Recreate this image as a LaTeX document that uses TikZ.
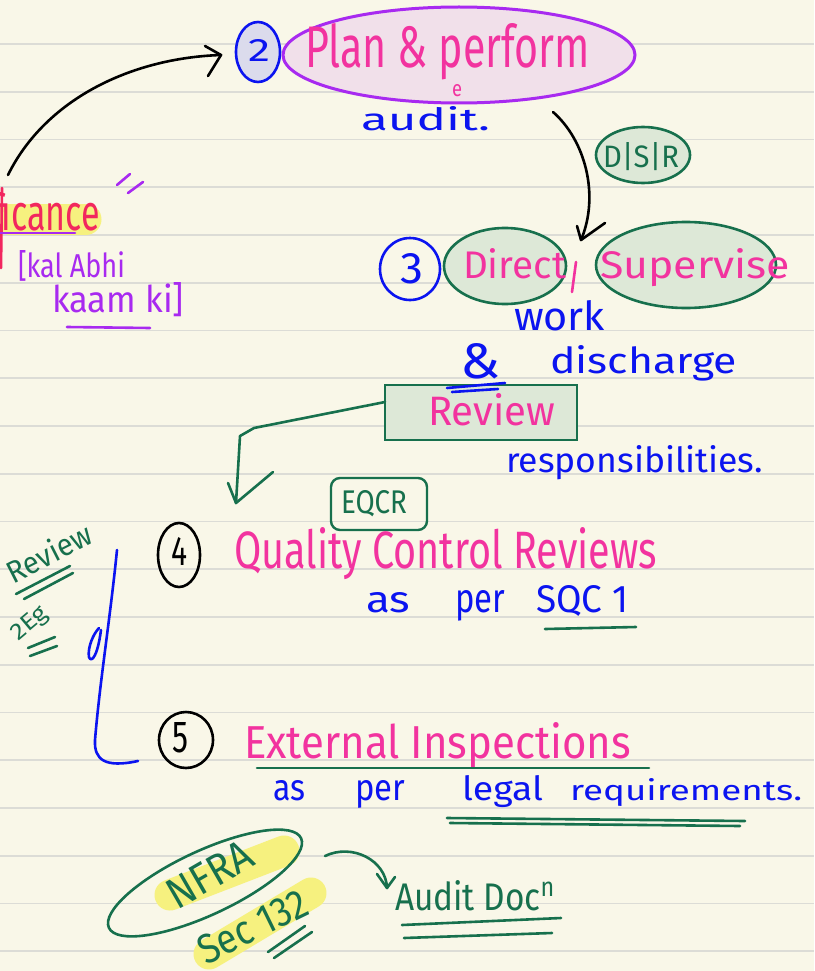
\documentclass[tikz,border=0pt]{standalone}
\usepackage{fontspec}
\usepackage{graphicx}
\setmainfont{Fira Sans}
\usetikzlibrary{shapes.geometric}

\definecolor{paper}{HTML}{F9F7E8}
\definecolor{ruling}{HTML}{DCDCD6}
\definecolor{inkblue}{HTML}{0B14F0}
\definecolor{inkpink}{HTML}{F2339F}
\definecolor{inkred}{HTML}{F2275E}
\definecolor{inkpurple}{HTML}{A82AF0}
\definecolor{inkgreen}{HTML}{17704D}
\definecolor{greenfill}{HTML}{DDE8D7}
\definecolor{pinkfill}{HTML}{F1E0EA}
\definecolor{bluefill}{HTML}{DBDBEC}
\definecolor{hilite}{HTML}{F6F17F}

% text squeezed to a given width and height (in pt)
\newcommand\hw[3]{\resizebox{#1pt}{#2pt}{#3}}

\begin{document}
\begin{tikzpicture}[x=1pt,y=-1pt,
  pen/.style={line width=2.6pt, line cap=round, line join=round},
  txt/.style={inner sep=0pt, outer sep=0pt, anchor=base west},
  oval/.style={ellipse, inner sep=0pt, line width=2.6pt},
  hl/.style={hilite, line width=31pt, line cap=round}]

\useasboundingbox (0,0) rectangle (814,971);
\fill[paper] (0,0) rectangle (814,971);
\clip (0,0) rectangle (814,971);

% ruled notebook lines
\foreach \k in {0,...,19}
  \draw[ruling, line width=1.8pt] (0,{44+47.75*\k}) -- (814,{44+47.75*\k});

% highlighter strokes
\draw[hl] (10,219) -- (86,219);
\draw[hl] (170,895) -- (284,851);
\draw[hl] (209,954) -- (311,893);

% shapes
\node[oval, draw=inkblue, fill=bluefill, minimum width=44pt, minimum height=60pt] (two) at (258,52) {};
\node[oval, draw=inkpurple, fill=pinkfill, line width=3pt, minimum width=352pt, minimum height=96pt] (planoval) at (459,55) {};
\node[oval, draw=inkgreen, fill=greenfill, minimum width=94pt, minimum height=56pt] (dsr) at (643,155) {};
\node[oval, draw=inkblue, minimum width=60pt, minimum height=62pt] (three) at (410,269) {};
\node[oval, draw=inkgreen, fill=greenfill, minimum width=122pt, minimum height=76pt] (directoval) at (505,266) {};
\node[oval, draw=inkgreen, fill=greenfill, minimum width=180pt, minimum height=86pt] (superoval) at (686,265) {};
\node[draw=inkgreen, fill=greenfill, line width=2.6pt, minimum width=192pt, minimum height=55pt, inner sep=0pt] (reviewbox) at (481,412.5) {};
\node[draw=inkgreen, rounded corners=9pt, line width=2.4pt, minimum width=96pt, minimum height=52pt, inner sep=0pt] (eqcrbox) at (379,504) {};
\node[oval, draw=black, minimum width=42pt, minimum height=64pt] (four) at (179,555) {};
\node[oval, draw=black, minimum width=54pt, minimum height=56pt] (five) at (186,740) {};
\node[oval, draw=inkgreen, rotate=25, minimum width=212pt, minimum height=64pt] (nfraoval) at (205,883) {};

% numbers in circles
\node[txt, text=inkblue] (twonum) at (248,62) {\hw{22}{22}{2}};
\node[txt, text=inkblue] (threenum) at (400,283) {\hw{23}{30}{3}};
\node[txt, text=black] (fournum) at (171,565) {\hw{16}{28}{4}};
\node[txt, text=black] (fivenum) at (172,752) {\hw{16}{30}{5}};

% texts
\node[txt, text=inkpink] (plantxt) at (305,68) {\hw{285}{44}{Plan \& perform}};
\node[txt, text=inkpink] (etxt) at (452,97) {\hw{10}{12}{e}};
\node[txt, text=inkblue] (audit) at (361,131) {\hw{129}{24}{audit.}};
\node[txt, text=inkred, anchor=base east] (fic) at (100,230) {\hw{108}{38}{ficance}};
\node[txt, text=inkpurple] (kal) at (18,277) {\hw{107}{27}{[kal Abhi}};
\node[txt, text=inkpurple] (kaam) at (52,312) {\hw{132}{30}{kaam ki]}};
\node[txt, text=inkgreen] (dsrtxt) at (603,167) {\hw{76}{25}{D|S|R}};
\node[txt, text=inkpink] (direct) at (463,278) {\hw{103}{30}{Direct}};
\node[txt, text=inkpink] (superv) at (600,278) {\hw{190}{30}{Supervise}};
\node[txt, text=inkblue] (work) at (514,330) {\hw{91}{30}{work}};
\node[txt, text=inkblue] (amp) at (460,378) {\hw{40}{35}{\&}};
\node[txt, text=inkblue] (disch) at (550,373) {\hw{187}{28}{discharge}};
\node[txt, text=inkpink] (reviewtxt) at (428,425) {\hw{127}{32}{Review}};
\node[txt, text=inkblue] (resp) at (506,472) {\hw{257}{27}{responsibilities.}};
\node[txt, text=inkgreen] (eqcr) at (341,513) {\hw{66}{23}{EQCR}};
\node[txt, text=inkpink] (qcr) at (234,568) {\hw{423}{41}{Quality Control Reviews}};
\node[txt, text=inkblue] (as1) at (366,612) {\hw{44}{20}{as}};
\node[txt, text=inkblue] (per1) at (455,612) {\hw{50}{22}{per}};
\node[txt, text=inkblue] (sqc) at (536,612) {\hw{92}{27}{SQC 1}};
\node[txt, text=inkpink] (ext) at (244,758) {\hw{387}{36}{External Inspections}};
\node[txt, text=inkblue] (as2) at (273,800) {\hw{32}{20}{as}};
\node[txt, text=inkblue] (per2) at (355,800) {\hw{50}{20}{per}};
\node[txt, text=inkblue] (legal) at (462,800) {\hw{81}{25}{legal}};
\node[txt, text=inkblue] (req) at (570,800) {\hw{232}{22}{requirements.}};
\node[txt, text=inkgreen] (auditdoc) at (395,910) {\hw{161}{30}{Audit Doc\textsuperscript{n}}};
\node[txt, text=inkgreen, rotate=27] (sidereview) at (13,584) {\hw{92}{24}{Review}};
\node[inner sep=0pt, text=inkgreen, rotate=40] (sideeg) at (30,624) {\hw{40}{16}{2Eg}};
\node[inner sep=0pt, text=inkgreen, rotate=30] (nfra) at (210,874) {\hw{92}{30}{NFRA}};
\node[txt, text=inkgreen, rotate=26] (sec) at (206,965) {\hw{118}{29}{Sec 132}};

% small strokes and underlines
\draw[pen, inkred] (2,188) -- (1,268);
\draw[pen, inkpink] (576,262) -- (572,292);
\draw[pen, inkpurple] (0,233) -- (75,233);
\draw[pen, inkpurple] (67,327) -- (150,328);
\draw[pen, inkpurple] (117,185) -- (130,174);
\draw[pen, inkpurple] (128,193) -- (143,182);
\draw[pen, inkblue] (447,388) -- (505,383);
\draw[pen, inkblue] (452,392) -- (498,389);
\draw[pen, inkgreen] (545,629) -- (636,627);
\draw[pen, inkgreen] (257,768) -- (649,768);
\draw[pen, inkgreen] (447,818) -- (745,821);
\draw[pen, inkgreen] (450,823) -- (740,826);
\draw[pen, inkgreen] (402,925) -- (561,918);
\draw[pen, inkgreen] (404,938) -- (552,933);
\draw[pen, inkgreen] (268,952) -- (305,926);
\draw[pen, inkgreen] (274,958) -- (312,932);
\draw[pen, inkgreen] (16,594) -- (70,566);
\draw[pen, inkgreen] (24,599) -- (73,573);
\draw[pen, inkgreen] (28,648) -- (55,637);
\draw[pen, inkgreen] (30,656) -- (57,646);

% blue bracket grouping 4 and 5
\draw[pen, inkblue] (117,550) .. controls (110,620) and (100,680) .. (95,740)
  .. controls (94,760) and (105,768) .. (138,761);
\draw[pen, inkblue] (99,628) .. controls (88,640) and (86,662) .. (92,659)
  .. controls (96,656) and (99,645) .. (101,630);

% connectors
\coordinate (aStart) at (8,175);
\coordinate (aEnd) at (221,55);
\draw[pen, black] (aStart) .. controls (45,100) and (130,58) .. (aEnd);
\draw[pen, black] (205,46) -- (aEnd) -- (208,76);

\coordinate (bStart) at (553,112);
\coordinate (bEnd) at (581,240);
\draw[pen, black] (bStart) .. controls (585,140) and (600,195) .. (bEnd);
\draw[pen, black] (577,226) -- (bEnd) -- (605,223);

\coordinate (cStart) at (385,402);
\coordinate (cEnd) at (236,503);
\draw[pen, inkgreen] (cStart) -- (254,428) -- (240,436) -- (cEnd);
\draw[pen, inkgreen] (228,483) -- (cEnd) -- (273,472);

\coordinate (dStart) at (325,856);
\coordinate (dEnd) at (387,888);
\draw[pen, inkgreen] (dStart) .. controls (352,843) and (386,860) .. (dEnd);
\draw[pen, inkgreen] (377,874) -- (dEnd) -- (395,877);
\end{tikzpicture}
\end{document}
